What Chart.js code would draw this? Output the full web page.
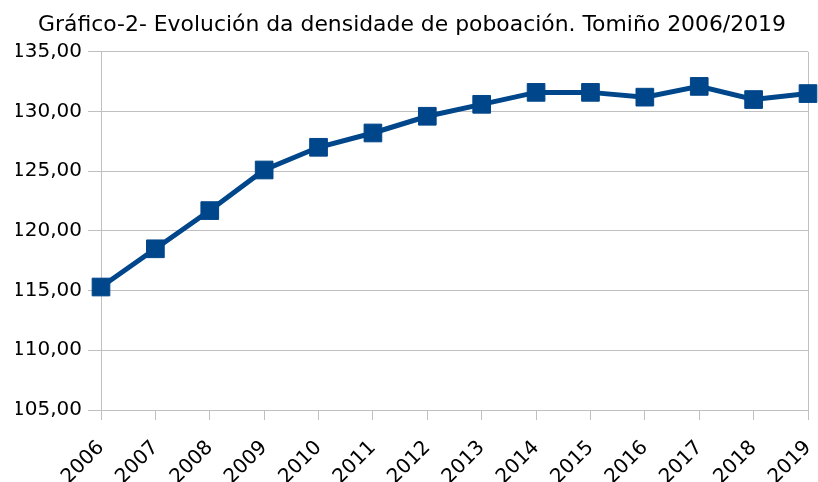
<!DOCTYPE html>
<html>
<head>
<meta charset="utf-8">
<script src="https://cdn.jsdelivr.net/npm/chart.js@4"></script>
<style>
html,body{margin:0;padding:0;background:#fff;}
#wrap{width:818px;height:482px;}
</style>
</head>
<body>
<div id="wrap"><canvas id="c" width="818" height="482"></canvas></div>
<script>
const titleText = 'Gráfico-2- Evolución da densidade de poboación. Tomiño 2006/2019';
const years = ['2006','2007','2008','2009','2010','2011','2012','2013','2014','2015','2016','2017','2018','2019'];
const density = [115.3, 118.5, 121.7, 125.1, 127.0, 128.2, 129.6, 130.6, 131.6, 131.6, 131.2, 132.1, 131.0, 131.5];
const yMin = 105, yMax = 135, yStep = 5;

const FONT = '"DejaVu Sans", Lato, sans-serif';
const lineColor = '#00468a';
const gridColor = '#c0c0c0';

new Chart(document.getElementById('c'), {
  type: 'line',
  data: {
    labels: years,
    datasets: [{
      data: density,
      borderColor: lineColor,
      backgroundColor: lineColor,
      borderWidth: 5,
      pointStyle: 'rect',
      pointRadius: 12.5,
      pointBorderWidth: 1,
      pointBackgroundColor: lineColor,
      pointBorderColor: lineColor,
      tension: 0,
      fill: false,
      clip: false
    }]
  },
  options: {
    responsive: false,
    animation: false,
    devicePixelRatio: 1,
    layout: { autoPadding: false, padding: { left: 16, right: 10, top: 0, bottom: 0 } },
    plugins: {
      legend: { display: false },
      tooltip: { enabled: false },
      title: {
        display: true,
        text: titleText,
        color: '#000',
        font: { family: FONT, size: 21.9, weight: 'normal' },
        padding: { top: 12, bottom: 13.5 }
      }
    },
    scales: {
      x: {
        offset: false,
        grid: {
          drawOnChartArea: true,
          color: (ctx) => ctx.index === years.length - 1 ? gridColor : 'rgba(0,0,0,0)',
          tickColor: gridColor,
          tickLength: 10,
          lineWidth: 1
        },
        border: { display: true, color: gridColor, width: 1 },
        ticks: {
          autoSkip: false,
          minRotation: 45,
          maxRotation: 45,
          color: '#000',
          padding: 16,
          font: { family: FONT, size: 20 }
        },
        afterFit: (s) => { s.height = 72; s.paddingRight = 0; s.paddingLeft = 0; }
      },
      y: {
        min: yMin,
        max: yMax,
        grid: {
          color: gridColor,
          tickColor: gridColor,
          tickLength: 13,
          lineWidth: 1
        },
        border: { display: true, color: gridColor, width: 1 },
        ticks: {
          stepSize: yStep,
          color: '#000',
          padding: 6,
          font: { family: FONT, size: 20 },
          callback: (v) => Number(v).toFixed(2).replace('.', ',')
        },
        afterFit: (s) => { s.width = 85; }
      }
    }
  }
});
</script>
</body>
</html>
